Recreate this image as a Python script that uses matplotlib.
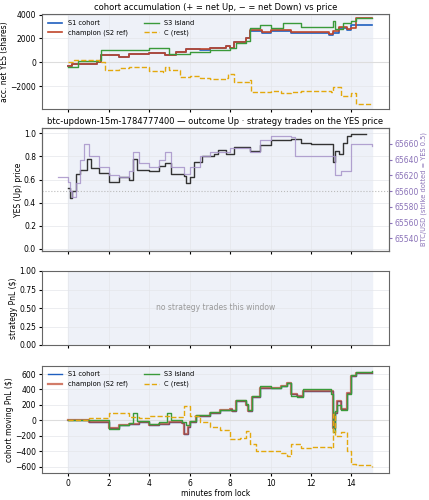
import numpy as np
import matplotlib
matplotlib.use("Agg")
import matplotlib.pyplot as plt

# ---- panel 1: accumulated net YES (shares)
acc_s1_t = [0, 0.2, 1.4, 1.6, 2.5, 3, 4, 4.8, 5.3, 5.8, 6.5, 7, 7.8, 8, 8.2, 8.8, 9.0, 9.6, 10, 11, 12.9, 13.1, 13.4, 13.8, 14.0, 15]
acc_s1_v = [-300, -100, 0, 600, 450, 700, 800, 600, 900, 1100, 1050, 1200, 1400, 1200, 1700, 2000, 2650, 2500, 2650, 2450, 2300, 2500, 2900, 2700, 3100, 3100]
acc_ch_t = [0, 0.2, 1.4, 1.6, 2.5, 3, 4, 4.8, 5.3, 5.8, 6.5, 7, 7.8, 8, 8.2, 8.8, 9.0, 9.6, 10, 11, 12.9, 13.1, 13.4, 13.8, 14.0, 14.2, 15]
acc_ch_v = [-300, -100, 0, 600, 450, 700, 800, 600, 900, 1100, 1100, 1200, 1400, 1200, 1700, 2000, 2700, 2550, 2700, 2550, 2400, 2600, 3000, 2800, 2900, 3700, 3700]
acc_s3_t = [0, 0.5, 1.5, 1.6, 3, 4, 4.7, 5, 6, 7, 8, 8.3, 8.8, 9.0, 9.5, 10, 10.6, 11.5, 13, 13.1, 13.2, 13.6, 14, 14.2, 15]
acc_s3_v = [-400, 100, 200, 1000, 1000, 1200, 1200, 700, 900, 1000, 1200, 1600, 1800, 2900, 3100, 2900, 3300, 3000, 3000, 3500, 2800, 3300, 3500, 3700, 3700]
acc_c_t = [0, 0.3, 1.5, 1.8, 2.5, 3, 4, 4.7, 4.8, 5, 5.5, 6, 6.5, 7, 7.8, 7.9, 8.2, 9.0, 9.05, 10, 10.5, 11, 11.5, 12.3, 13, 13.1, 13.5, 14, 14.2, 15]
acc_c_v = [0, 200, 0, -600, -500, -400, -700, -800, -400, -600, -1200, -1100, -1300, -1400, -1300, -1000, -1600, -1500, -2500, -2400, -2600, -2500, -2400, -2400, -2500, -2100, -2800, -2600, -3500, -3500]

# ---- panel 2: YES price and BTC
yes_t = [0, 0.1, 0.2, 0.4, 0.6, 0.9, 1.1, 1.5, 2, 2.5, 3, 3.2, 3.4, 4, 4.5, 4.8, 5.1, 5.7, 5.8, 6.0, 6.2, 6.6, 7.2, 7.4, 7.8, 8.2, 9, 9.5, 10, 11, 11.5, 12, 13, 13.1, 13.2, 13.4, 13.6, 13.8, 14, 14.7]
yes_v = [0.53, 0.44, 0.5, 0.65, 0.68, 0.78, 0.7, 0.66, 0.58, 0.62, 0.6, 0.78, 0.68, 0.67, 0.72, 0.74, 0.65, 0.63, 0.57, 0.62, 0.75, 0.8, 0.82, 0.86, 0.82, 0.88, 0.85, 0.9, 0.94, 0.95, 0.92, 0.91, 0.91, 0.75, 0.85, 0.82, 0.92, 0.98, 0.99, 0.99]
btc_t = [-0.5, 0, 0.1, 0.2, 0.4, 0.6, 0.8, 1.0, 1.5, 2, 2.5, 3, 3.2, 3.5, 4, 4.5, 4.8, 5.1, 5.7, 6, 6.5, 7, 8, 9, 9.5, 10, 11, 11.2, 12, 13, 13.2, 13.5, 14, 15]
btc_v = [65618, 65612, 65600, 65592, 65610, 65640, 65660, 65645, 65630, 65620, 65618, 65625, 65650, 65635, 65630, 65640, 65650, 65630, 65622, 65630, 65645, 65650, 65655, 65650, 65665, 65670, 65668, 65645, 65645, 65645, 65620, 65625, 65660, 65657]

# ---- panel 4: cohort moving PnL ($)
pnl_ch_t = [0, 1, 2, 2.5, 3, 3.5, 4, 4.5, 5, 5.6, 5.7, 5.9, 6, 6.3, 7, 7.5, 8, 8.1, 8.3, 8.8, 8.9, 9.1, 9.5, 10, 10.5, 10.8, 11, 11.3, 11.6, 13, 13.1, 13.2, 13.3, 13.5, 13.8, 14, 14.2, 15]
pnl_ch_v = [0, -20, -100, -60, -40, -20, -60, -40, -20, -30, -180, -80, -20, 60, 100, 130, 150, 120, 250, 200, 120, 300, 420, 420, 440, 480, 340, 320, 380, 380, -100, 100, 250, 150, 350, 580, 610, 610]
pnl_s3_t = [0, 1, 2, 2.5, 3, 3.2, 3.4, 4, 4.5, 4.9, 5.1, 5.6, 5.8, 6, 6.3, 7, 7.5, 8, 8.3, 8.8, 8.9, 9.1, 9.5, 10, 10.5, 10.8, 11, 11.3, 11.6, 13, 13.1, 13.2, 13.3, 13.5, 13.8, 14, 14.2, 15]
pnl_s3_v = [0, 10, -110, -60, -30, 100, -10, -50, -20, 90, 0, -20, -60, -10, 70, 110, 140, 130, 260, 210, 140, 310, 450, 420, 450, 490, 320, 300, 400, 340, -150, 120, 200, 130, 340, 590, 630, 640]
pnl_c_t = [0, 1, 2, 3, 3.5, 4, 5, 5.7, 6, 6.5, 7, 7.5, 8, 8.5, 8.8, 9, 9.3, 10, 10.5, 10.8, 11, 11.5, 12, 13, 13.1, 13.2, 13.5, 13.8, 14, 14.2, 15]
pnl_c_v = [0, 30, 90, 40, 30, 60, 50, 180, 60, -20, -80, -120, -240, -230, -140, -300, -400, -400, -420, -460, -300, -360, -350, -360, 80, -200, -150, -400, -560, -580, -600]

C_S1 = '#1f5fbf'
C_CH = '#c0452a'
C_S3 = '#3a9a3a'
C_C = '#e3a80d'
BAND = '#eef1f8'

plt.rcParams['font.size'] = 5.5
fig = plt.figure(figsize=(4.29, 5.0), dpi=100)
L, W = 0.097, 0.81
ax1 = fig.add_axes([L, 0.782, W, 0.19])
ax2 = fig.add_axes([L, 0.498, W, 0.246])
ax3 = fig.add_axes([L, 0.31, W, 0.148])
ax4 = fig.add_axes([L, 0.054, W, 0.215])

for ax in (ax1, ax2, ax3, ax4):
    ax.axvspan(0, 15, color=BAND, zorder=0)
    ax.set_xlim(-1.32, 15.86)
    ax.grid(True, color='#e4e6ea', lw=0.5)
    ax.set_axisbelow(True)
    ax.tick_params(length=2.5, pad=1.5)
    for s in ax.spines.values():
        s.set_color('#666666')
    ax.set_xticks(range(0, 15, 2))
    if ax is not ax4:
        ax.tick_params(labelbottom=False)

# panel 1
ax1.axhline(0, color='#dddddd', lw=0.8)
ax1.step(acc_s1_t, acc_s1_v, where='post', color=C_S1, lw=1.2, label='S1 cohort')
ax1.step(acc_ch_t, acc_ch_v, where='post', color=C_CH, lw=1.2, label='champion (S2 ref)')
ax1.step(acc_s3_t, acc_s3_v, where='post', color=C_S3, lw=1.0, label='S3 island')
ax1.step(acc_c_t, acc_c_v, where='post', color=C_C, lw=1.0, ls='--', label='C (rest)')
ax1.set_ylim(-3900, 4050)
ax1.set_yticks([-2000, 0, 2000, 4000])
ax1.set_ylabel('acc. net YES (shares)', labelpad=1)
ax1.set_title('cohort accumulation (+ = net Up, \u2212 = net Down) vs price', fontsize=6, pad=3)
ax1.legend(loc='upper left', ncol=2, fontsize=4.8, frameon=False, handlelength=2.2, columnspacing=2.5)

# panel 2
ax2.axhline(0.5, color='#bbbbbb', lw=0.8, ls=':')
ax2.step(yes_t, yes_v, where='post', color='#333333', lw=1.0, zorder=3)
ax2.set_ylim(-0.018, 1.046)
ax2.set_yticks([0, 0.2, 0.4, 0.6, 0.8, 1.0])
ax2.set_ylabel('YES (Up) price', labelpad=1)
ax2.set_title('btc-updown-15m-1784777400 \u2014 outcome Up \u00b7 strategy trades on the YES price', fontsize=6, pad=3)
ax2b = ax2.twinx()
ax2b.step(btc_t, btc_v, where='post', color='#a793c9', lw=0.9, alpha=0.85)
ax2b.set_ylim(65524, 65680)
ax2b.set_yticks(range(65540, 65661, 20))
ax2b.tick_params(colors='#8a72b8', length=2.5, pad=1.5)
ax2b.set_ylabel('BTC/USD (strike dotted = YES 0.5)', color='#8a72b8', fontsize=4.8, labelpad=1)
for s in ax2b.spines.values():
    s.set_color('#666666')

# panel 3
ax3.set_ylim(0, 1)
ax3.set_ylabel('strategy PnL ($)', labelpad=1)
ax3.text(0.5, 0.5, 'no strategy trades this window', transform=ax3.transAxes,
         ha='center', va='center', color='#999999', fontsize=5.5)

# panel 4
ax4.axhline(0, color='#dddddd', lw=0.8)
ax4.step(pnl_ch_t, pnl_ch_v, where='post', color=C_S1, lw=1.0, label='S1 cohort')
ax4.step(pnl_ch_t, pnl_ch_v, where='post', color=C_CH, lw=1.6, alpha=0.7, label='champion (S2 ref)')
ax4.step(pnl_s3_t, pnl_s3_v, where='post', color=C_S3, lw=1.0, label='S3 island')
ax4.step(pnl_c_t, pnl_c_v, where='post', color=C_C, lw=1.0, ls='--', label='C (rest)')
ax4.set_ylim(-680, 710)
ax4.set_yticks(range(-600, 601, 200))
ax4.set_ylabel('cohort moving PnL ($)', labelpad=1)
ax4.set_xlabel('minutes from lock', labelpad=1)
ax4.legend(loc='upper left', ncol=2, fontsize=4.8, frameon=False, handlelength=2.2, columnspacing=2.5)

fig.savefig('out.png', dpi=100)
